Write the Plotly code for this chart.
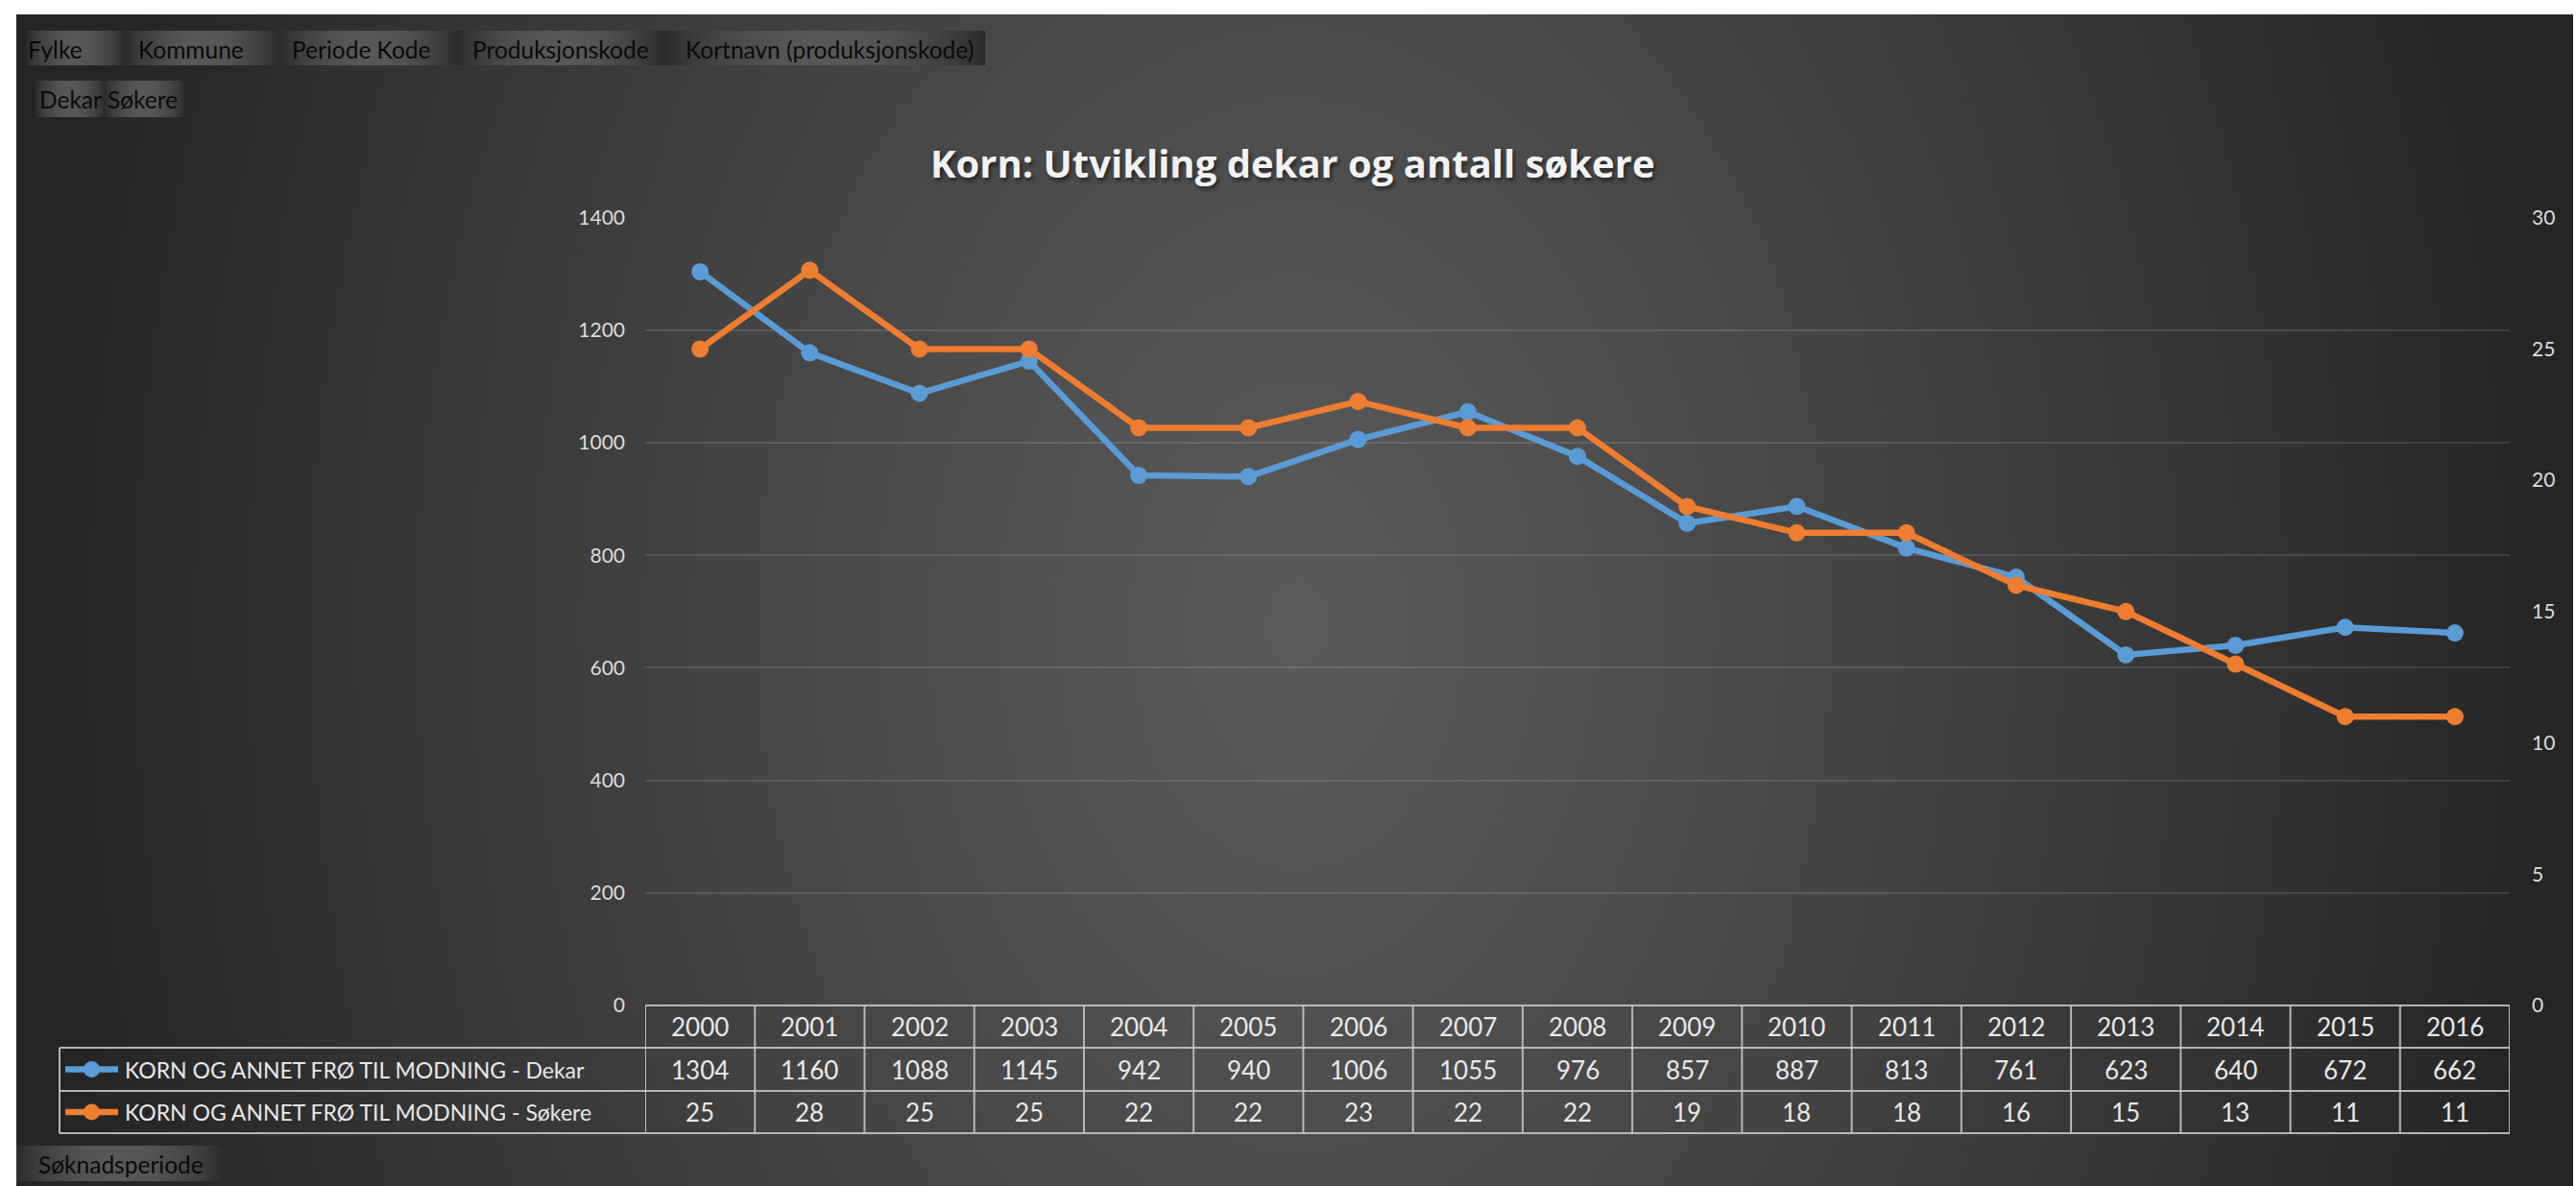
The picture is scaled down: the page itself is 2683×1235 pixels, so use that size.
import base64
import struct
import zlib

import numpy as np
import plotly.graph_objects as go

# ---------------- data ----------------
years = ["2000", "2001", "2002", "2003", "2004", "2005", "2006", "2007", "2008",
         "2009", "2010", "2011", "2012", "2013", "2014", "2015", "2016"]
dekar = [1304, 1160, 1088, 1145, 942, 940, 1006, 1055, 976, 857, 887, 813, 761, 623, 640, 672, 662]
sokere = [25, 28, 25, 25, 22, 22, 23, 22, 22, 19, 18, 18, 16, 15, 13, 11, 11]
series_names = ["KORN OG ANNET FRØ TIL MODNING - Dekar",
                "KORN OG ANNET FRØ TIL MODNING - Søkere"]
left_ticks = [0, 200, 400, 600, 800, 1000, 1200, 1400]
right_ticks = [0, 5, 10, 15, 20, 25, 30]
field_buttons = ["Fylke", "Kommune", "Periode Kode", "Produksjonskode", "Kortnavn (produksjonskode)"]
value_buttons = ["Dekar", "Søkere"]
axis_button = "Søknadsperiode"
title_text = "Korn: Utvikling dekar og antall søkere"

# ---------------- styling / geometry ----------------
W, H = 2683, 1235
FONT = "Lato, 'Open Sans', sans-serif"
TITLE_FONT = "'Open Sans', Lato, sans-serif"
BLUE = "#5B9BD5"
ORANGE = "#ED7D31"
TXT = "#e8e8e8"
GRIDLINE = "rgba(195,195,195,0.9)"

PLOT_L, PLOT_R, PLOT_T, PLOT_B = 672, 2614, 226.7, 1047
ROWS = [1047, 1091, 1136, 1180]
LABEL_L = 62


def px(x):
    return x / W


def py(y):
    return 1 - y / H


def png_uri(arr):
    arr = np.ascontiguousarray(arr.astype(np.uint8))
    h, w, _ = arr.shape
    raw = b"".join(b"\x00" + arr[i].tobytes() for i in range(h))

    def chunk(tag, data):
        c = struct.pack(">I", len(data)) + tag + data
        return c + struct.pack(">I", zlib.crc32(tag + data) & 0xFFFFFFFF)

    png = (b"\x89PNG\r\n\x1a\n"
           + chunk(b"IHDR", struct.pack(">IIBBBBB", w, h, 8, 2, 0, 0, 0))
           + chunk(b"IDAT", zlib.compress(raw, 9))
           + chunk(b"IEND", b""))
    return "data:image/png;base64," + base64.b64encode(png).decode()


# background radial gradient
bg_x0, bg_y0, bg_x1, bg_y1 = 17, 15, 2680, 1235
gw, gh = 333, 153
GX, GY = np.meshgrid(np.linspace(bg_x0, bg_x1, gw), np.linspace(bg_y0, bg_y1, gh))
d = np.sqrt(((GX - 1350) / 1330) ** 2 + ((GY - 650) / 1900) ** 2)
c = 0x5B - (0x5B - 0x25) * np.clip(d, 0, 1) ** 1.1
bg_img = png_uri(np.repeat(c[:, :, None], 3, axis=2))

# button gradient (dark edges, lighter centre)
bw, bh = 96, 8
t = np.linspace(0, 1, bw)
bc = 0x2C + (0x58 - 0x2C) * np.sin(np.pi * t) ** 0.8
btn_img = png_uri(np.repeat(np.tile(bc, (bh, 1))[:, :, None], 3, axis=2))

fig = go.Figure()

fig.add_trace(go.Scatter(
    x=years, y=dekar, name=series_names[0], mode="lines+markers",
    line=dict(color=BLUE, width=6.5), marker=dict(color=BLUE, size=18),
    xaxis="x", yaxis="y", showlegend=False, hoverinfo="x+y+name"))
fig.add_trace(go.Scatter(
    x=years, y=sokere, name=series_names[1], mode="lines+markers",
    line=dict(color=ORANGE, width=6.5), marker=dict(color=ORANGE, size=18),
    xaxis="x", yaxis="y2", showlegend=False, hoverinfo="x+y+name"))

images = [dict(source=bg_img, xref="paper", yref="paper", x=px(bg_x0), y=py(bg_y0),
               sizex=px(bg_x1 - bg_x0), sizey=(bg_y1 - bg_y0) / H, sizing="stretch",
               xanchor="left", yanchor="top", layer="below")]
annotations = []
shapes = []

btn_font = dict(family=FONT, size=24.5, color="#0a0a0a")

# field buttons (top row)
field_box = [(28, 130), (130, 291), (291, 477), (477, 691), (691, 1026)]
field_text_x = [27, 142, 302, 490, 712]
for (x0, x1), tx, label in zip(field_box, field_text_x, field_buttons):
    images.append(dict(source=btn_img, xref="paper", yref="paper", x=px(x0), y=py(32),
                       sizex=px(x1 - x0), sizey=36 / H, sizing="stretch",
                       xanchor="left", yanchor="top", layer="below"))
    annotations.append(dict(text=label, x=px(tx), y=py(51), xref="paper", yref="paper",
                            xanchor="left", yanchor="middle", showarrow=False, font=btn_font))

# value buttons
value_box = [(37, 109), (109, 192)]
value_text_x = [39, 110]
for (x0, x1), tx, label in zip(value_box, value_text_x, value_buttons):
    images.append(dict(source=btn_img, xref="paper", yref="paper", x=px(x0), y=py(84),
                       sizex=px(x1 - x0), sizey=38 / H, sizing="stretch",
                       xanchor="left", yanchor="top", layer="below"))
    annotations.append(dict(text=label, x=px(tx), y=py(103), xref="paper", yref="paper",
                            xanchor="left", yanchor="middle", showarrow=False, font=btn_font))

# axis field button (bottom left)
images.append(dict(source=btn_img, xref="paper", yref="paper", x=px(17), y=py(1193),
                   sizex=px(215), sizey=37 / H, sizing="stretch",
                   xanchor="left", yanchor="top", layer="below"))
annotations.append(dict(text=axis_button, x=px(38), y=py(1212), xref="paper", yref="paper",
                        xanchor="left", yanchor="middle", showarrow=False, font=btn_font))

# title
annotations.append(dict(text="<b>" + title_text + "</b>", x=px(1346), y=py(170),
                        xref="paper", yref="paper", xanchor="center", yanchor="middle",
                        showarrow=False,
                        font=dict(family=TITLE_FONT, size=40, color="#f2f2f2",
                                  shadow="2px 3px 4px rgba(0,0,0,0.55)")))

# ---------------- data table ----------------
line_style = dict(color=GRIDLINE, width=2)
shapes.append(dict(type="line", xref="paper", yref="paper", x0=px(PLOT_L), x1=px(PLOT_R),
                   y0=py(ROWS[0]), y1=py(ROWS[0]), line=line_style))
for r in ROWS[1:]:
    shapes.append(dict(type="line", xref="paper", yref="paper", x0=px(LABEL_L), x1=px(PLOT_R),
                       y0=py(r), y1=py(r), line=line_style))
for k in range(len(years) + 1):
    shapes.append(dict(type="line", xref="x", yref="paper", x0=k - 0.5, x1=k - 0.5,
                       y0=py(ROWS[0]), y1=py(ROWS[-1]), line=line_style))
shapes.append(dict(type="line", xref="paper", yref="paper", x0=px(LABEL_L), x1=px(LABEL_L),
                   y0=py(ROWS[1]), y1=py(ROWS[-1]), line=line_style))

row_centers = [(ROWS[i] + ROWS[i + 1]) / 2 for i in range(3)]
cell_font = dict(family=FONT, size=26, color=TXT)
label_font = dict(family=FONT, size=23, color=TXT)
for i, yr in enumerate(years):
    for text, yc in zip([yr, str(dekar[i]), str(sokere[i])], row_centers):
        annotations.append(dict(text=text, x=i, xref="x", y=py(yc), yref="paper",
                                xanchor="center", yanchor="middle", showarrow=False,
                                font=cell_font))

for name, col, yc in zip(series_names, [BLUE, ORANGE], row_centers[1:]):
    annotations.append(dict(text=name, x=px(128), y=py(yc), xref="paper", yref="paper",
                            xanchor="left", yanchor="middle", showarrow=False, font=label_font))
    shapes.append(dict(type="line", xref="paper", yref="paper", x0=px(68), x1=px(123),
                       y0=py(yc), y1=py(yc), line=dict(color=col, width=6.5)))
    shapes.append(dict(type="circle", xref="paper", yref="paper", x0=px(87), x1=px(104),
                       y0=py(yc + 8.5), y1=py(yc - 8.5), fillcolor=col, line=dict(width=0)))

tick_font = dict(family=FONT, size=21, color="#dcdcdc")
fig.update_layout(
    width=W, height=H,
    autosize=False,
    margin=dict(l=0, r=0, t=0, b=0, pad=0, autoexpand=False),
    paper_bgcolor="white",
    plot_bgcolor="rgba(0,0,0,0)",
    showlegend=False,
    images=images,
    annotations=annotations,
    shapes=shapes,
    xaxis=dict(domain=[px(PLOT_L), px(PLOT_R)], type="category", range=[-0.5, len(years) - 0.5],
               showgrid=False, showticklabels=False, zeroline=False, showline=False, ticks="",
               automargin=False),
    yaxis=dict(domain=[py(PLOT_B), py(PLOT_T)], range=[0, 1400], tickvals=left_ticks,
               showgrid=True, gridcolor="rgba(255,255,255,0.12)", gridwidth=1.5,
               zeroline=False, showline=False, ticks="", tickfont=tick_font,
               ticklabelstandoff=20, automargin=False),
    yaxis2=dict(overlaying="y", side="right", range=[0, 30], tickvals=right_ticks,
                showgrid=False, zeroline=False, showline=False, ticks="", tickfont=tick_font,
                ticklabelstandoff=22, automargin=False),
    hovermode="closest",
)

fig.write_html("out.html", config={"displayModeBar": False},
               post_script="document.body.style.margin='0';document.body.style.overflow='hidden';")
